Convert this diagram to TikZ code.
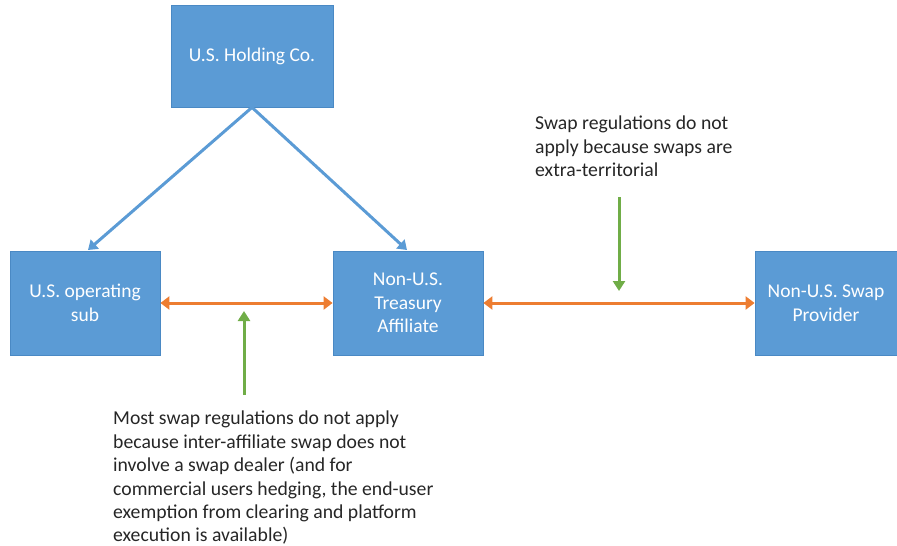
\documentclass[tikz,border=0pt]{standalone}
\usepackage{fontspec}
\setmainfont{Carlito}
\usetikzlibrary{arrows.meta}
\definecolor{boxblue}{HTML}{5B9BD5}
\definecolor{boxedge}{HTML}{4A89C4}
\definecolor{linkorange}{HTML}{ED7D31}
\definecolor{notegreen}{HTML}{70AD47}
\definecolor{notetext}{HTML}{262626}
\tikzset{
  entity/.style={draw=boxedge, line width=0.8pt, fill=boxblue, text=white,
    align=center, inner sep=0pt, font=\fontsize{19.5}{23.5}\selectfont},
  owns/.style={draw=boxblue, line width=3pt, -{Triangle[length=9pt,width=12pt]}},
  swapflow/.style={draw=linkorange, line width=3pt,
    {Triangle[length=9pt,width=13pt]}-{Triangle[length=9pt,width=13pt]}},
  pointer/.style={draw=notegreen, line width=3pt, -{Triangle[length=10pt,width=12pt]}},
  note/.style={text=notetext, align=left, inner sep=0pt, anchor=north west,
    font=\fontsize{19.7}{23.4}\selectfont}
}
\begin{document}
\begin{tikzpicture}[x=1pt,y=-1pt]
\useasboundingbox (0,0) rectangle (897,546);

% entities
\node[entity, minimum width=162pt, minimum height=102pt] (hold) at (252,56) {U.S. Holding Co.};
\node[entity, minimum width=150pt, minimum height=104pt] (opsub) at (85,303) {U.S. operating\\sub};
\node[entity, minimum width=150pt, minimum height=104pt] (treas) at (408,303) {Non-U.S.\\Treasury\\Affiliate};
\node[entity, minimum width=142pt, minimum height=104pt] (prov) at (826,303) {Non-U.S. Swap\\Provider};

% ownership links
\coordinate (hb) at (hold.south);
\coordinate (opin) at (88,250);
\coordinate (trin) at (407,250);
\draw[owns] (hb) -- (opin);
\draw[owns] (hb) -- (trin);

% swap flows
\draw[swapflow] (opsub.east) -- (treas.west);
\draw[swapflow] (treas.east) -- (prov.west);

% notes
\node[note] (noteA) at (535,116) {Swap regulations do not\\apply because swaps are\\extra-territorial};
\node[note] (noteB) at (113,411) {Most swap regulations do not apply\\because inter-affiliate swap does not\\involve a swap dealer (and for\\commercial users hedging, the end-user\\exemption from clearing and platform\\execution is available)};

\coordinate (gA1) at (619,197);
\coordinate (gA2) at (619,291);
\coordinate (gB1) at (244,395);
\coordinate (gB2) at (244,311);
\draw[pointer] (gA1) -- (gA2);
\draw[pointer] (gB1) -- (gB2);
\end{tikzpicture}
\end{document}
